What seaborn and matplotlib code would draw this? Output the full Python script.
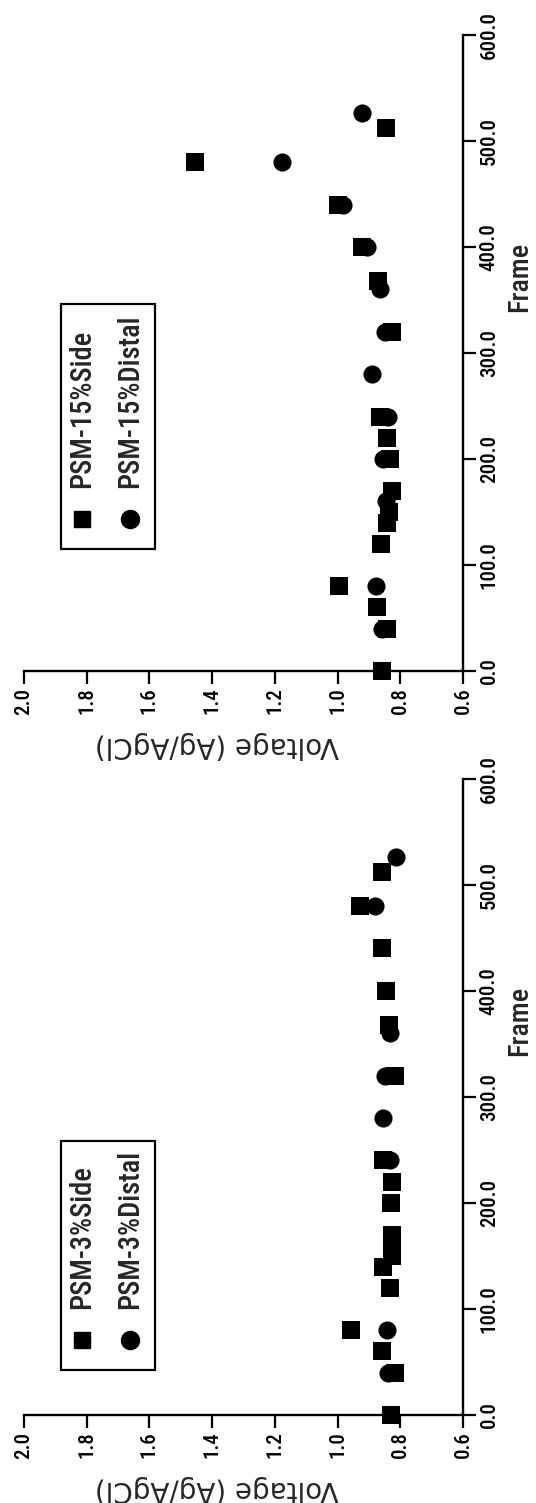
import matplotlib
matplotlib.use("Agg")
import matplotlib.pyplot as plt
from matplotlib import font_manager
from matplotlib.font_manager import FontProperties
from matplotlib.textpath import TextPath
from matplotlib.patches import Rectangle
import seaborn as sns

# PSM-3% panel (bottom of the page)
frames_3_side = [0, 40, 60, 80, 120, 140, 150, 160, 170, 200, 220, 240, 320, 368, 400, 440, 480, 512]
volts_3_side = [0.831, 0.817, 0.859, 0.958, 0.833, 0.854, 0.828, 0.828, 0.826, 0.830, 0.828, 0.855,
                0.817, 0.837, 0.846, 0.857, 0.930, 0.857]
frames_3_distal = [40, 80, 240, 280, 320, 360, 480, 526]
volts_3_distal = [0.838, 0.842, 0.832, 0.854, 0.849, 0.832, 0.881, 0.814]

# PSM-15% panel (top of the page)
frames_15_side = [0, 40, 60, 80, 120, 140, 150, 170, 200, 220, 240, 320, 368, 400, 440, 480, 512]
volts_15_side = [0.857, 0.843, 0.875, 0.995, 0.863, 0.843, 0.835, 0.828, 0.833, 0.843, 0.865,
                 0.828, 0.870, 0.923, 0.998, 1.455, 0.846]
frames_15_distal = [40, 80, 160, 200, 240, 280, 320, 360, 400, 440, 480, 526]
volts_15_distal = [0.859, 0.878, 0.847, 0.854, 0.838, 0.889, 0.849, 0.865, 0.907, 0.982, 1.176, 0.922]

volt_ticks = [2.0, 1.8, 1.6, 1.4, 1.2, 1.0, 0.8, 0.6]
frame_ticks = [0, 100, 200, 300, 400, 500, 600]

sns.set_style("white")
plt.rcParams["font.family"] = ["Liberation Sans", "DejaVu Sans"]


def pick_narrow():
    # the scan squeezes the rotated text, so prefer a condensed sans if one is installed;
    # a medium weight comes closer to the thick scanned strokes
    order = ["Liberation Sans Narrow", "Roboto Condensed", "DejaVu Sans Condensed", "Noto Sans"]
    good = []
    for f in font_manager.fontManager.ttflist:
        if f.style != "normal":
            continue
        w = str(f.weight)
        if w not in ("400", "500", "normal", "regular", "medium"):
            continue
        squeezed = f.stretch == "condensed" or "Narrow" in f.name or "Condensed" in f.name
        if squeezed and ("Sans" in f.name or "Roboto" in f.name):
            fam = next((i for i, n in enumerate(order) if f.name.startswith(n)), 99)
            heavy = 0 if w in ("500", "medium") else 1
            good.append((fam, heavy, f.fname))
    if good:
        good.sort()
        return FontProperties(fname=good[0][2])
    return FontProperties(family="Liberation Sans")


base_fp = pick_narrow()


def fitted(text, px):
    # font size so the ink of `text` is about `px` pixels long at 100 dpi
    fp = base_fp.copy()
    fp.set_size(10)
    w = TextPath((0, 0), text, prop=fp).get_extents().width
    fp.set_size(10 * px * 0.72 / w)
    return fp


tick_fp = fitted("100.0", 45)
legend_fp = fitted("PSM-3%Side", 141)
frame_fp = fitted("Frame", 67)


def draw_panel(ax, side_f, side_v, dist_f, dist_v, labels, box_y0, box_y1):
    sns.scatterplot(x=side_v, y=side_f, marker="s", s=150, color="black", linewidth=0,
                    ax=ax, clip_on=False, zorder=3, legend=False)
    sns.scatterplot(x=dist_v, y=dist_f, marker="o", s=170, color="black", linewidth=0,
                    ax=ax, clip_on=False, zorder=3, legend=False)
    ax.set_xlim(2.0, 0.6)
    ax.set_ylim(0, 600)
    ax.set_facecolor("none")
    for s in ["left", "top"]:
        ax.spines[s].set_visible(False)
    for s in ["bottom", "right"]:
        ax.spines[s].set_linewidth(1.7)
        ax.spines[s].set_color("black")
    ax.yaxis.tick_right()
    ax.yaxis.set_label_position("right")
    ax.set_xticks(volt_ticks)
    ax.set_xticklabels(["%.1f" % v for v in volt_ticks], rotation=90, fontproperties=tick_fp)
    ax.set_yticks(frame_ticks)
    ax.set_yticklabels(["%.1f" % f for f in frame_ticks], rotation=90, fontproperties=tick_fp,
                       va="center")
    ax.tick_params(axis="x", bottom=True, top=False, direction="out", length=9, width=1.6,
                   pad=3, colors="black")
    ax.tick_params(axis="y", left=False, right=True, direction="out", length=9, width=1.6,
                   pad=3, colors="black")
    ax.set_xlabel("Voltage (Ag/AgCl)", rotation=180, fontsize=20, family="DejaVu Sans",
                  ha="center", va="center")
    ax.xaxis.set_label_coords(0.44, -0.117)
    ax.set_ylabel("Frame", rotation=90, fontproperties=frame_fp, ha="center", va="center")
    ax.yaxis.set_label_coords(1.13, 0.62)

    # hand-built legend, rotated with the rest of the page
    ax.add_patch(Rectangle((0.084, box_y0), 0.214, box_y1 - box_y0, transform=ax.transAxes,
                           fill=False, lw=1.6, edgecolor="black", clip_on=False))
    for xm, mk, ms, lab in [(0.132, "s", 12, labels[0]), (0.241, "o", 13, labels[1])]:
        ax.plot([xm], [box_y0 + 0.047], marker=mk, ms=ms, color="black", ls="none",
                transform=ax.transAxes, clip_on=False)
        ax.text(xm, box_y0 + 0.096, lab, rotation=90, ha="center", va="bottom",
                fontproperties=legend_fp, transform=ax.transAxes)


fig = plt.figure(figsize=(5.36, 15.03), dpi=100)
ax_top = fig.add_axes([0.0448, 0.5536, 0.819, 0.4231])
ax_bot = fig.add_axes([0.0448, 0.0586, 0.819, 0.4232])

draw_panel(ax_top, frames_15_side, volts_15_side, frames_15_distal, volts_15_distal,
           ["PSM-15%Side", "PSM-15%Distal"], 0.192, 0.577)
draw_panel(ax_bot, frames_3_side, volts_3_side, frames_3_distal, volts_3_distal,
           ["PSM-3%Side", "PSM-3%Distal"], 0.071, 0.431)

fig.savefig("out.png", dpi=100)
